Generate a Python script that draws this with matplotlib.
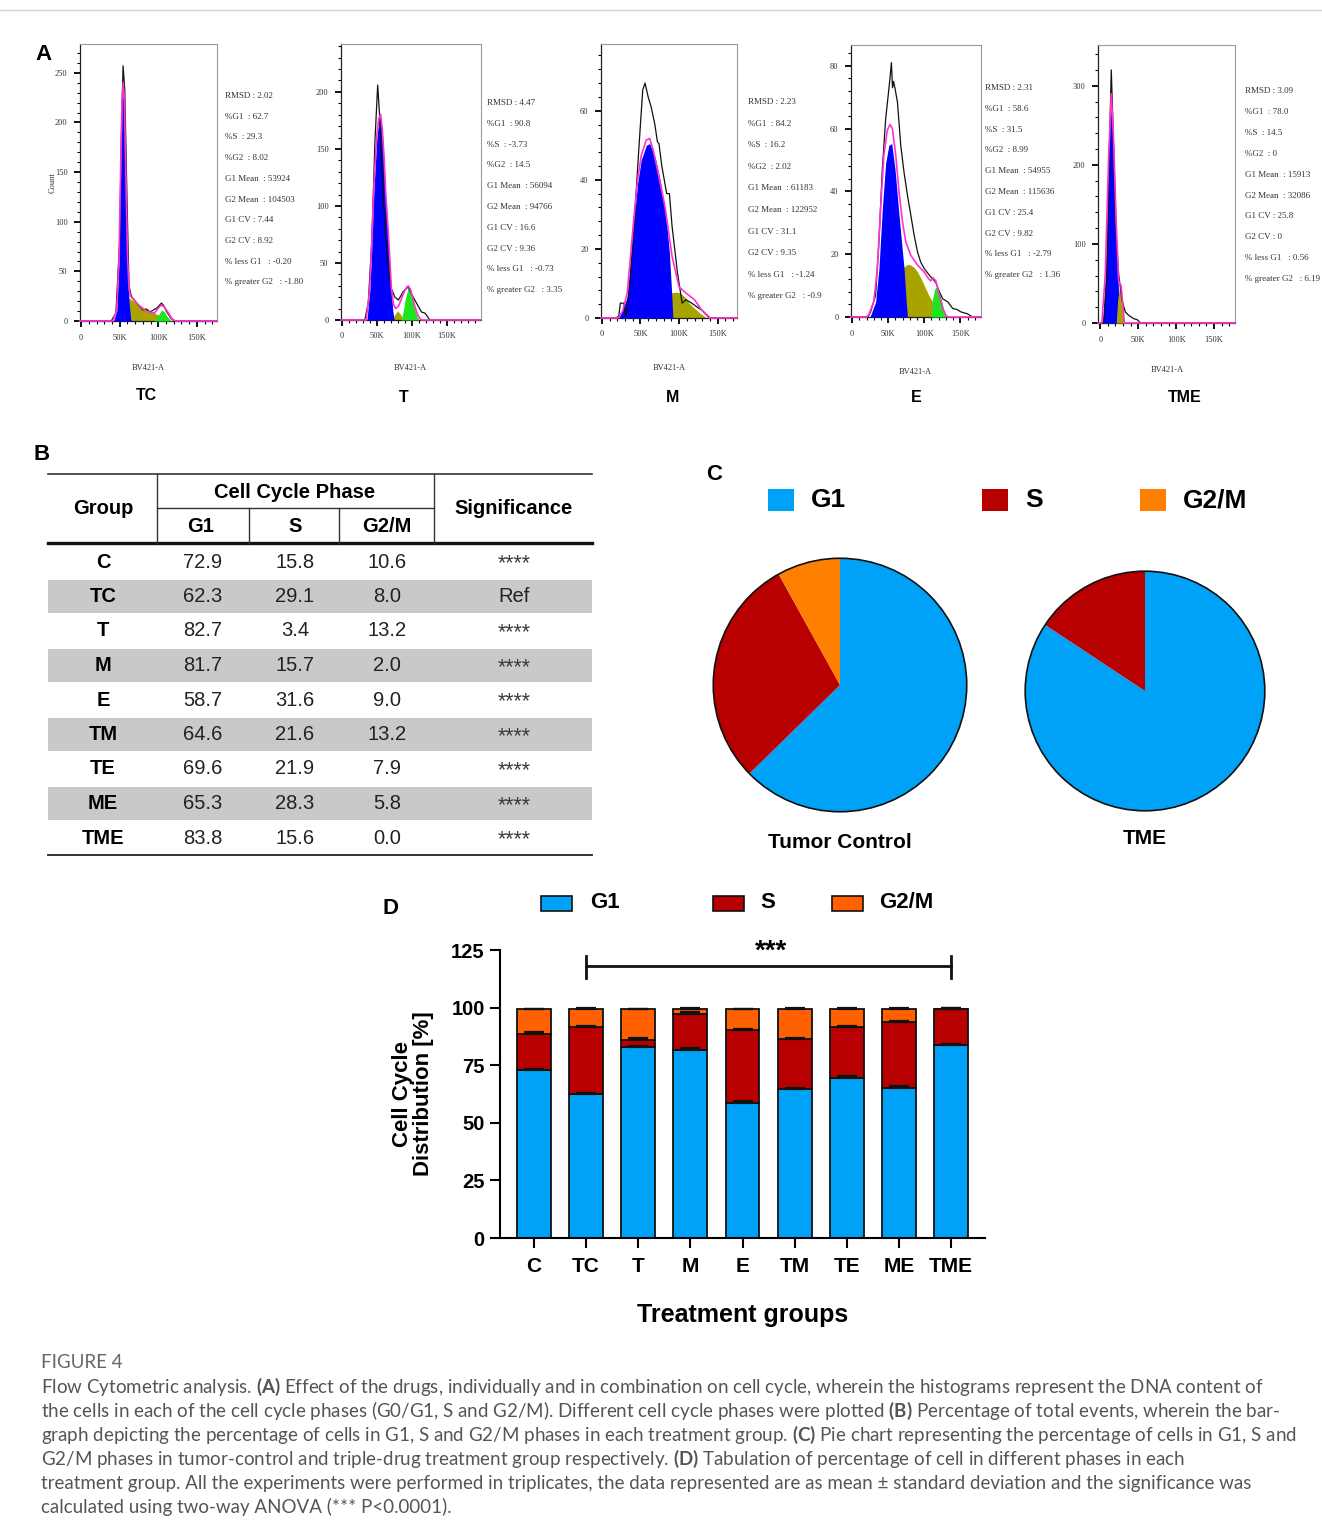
import matplotlib
matplotlib.use('Agg')
import matplotlib.pyplot as plt
from matplotlib.patches import Rectangle, Circle
from matplotlib.ticker import MultipleLocator, FuncFormatter

W, H = 1322, 1537
plt.rcParams['font.family'] = ['Liberation Sans', 'DejaVu Sans']
plt.rcParams['mathtext.fontset'] = 'custom'
plt.rcParams['mathtext.bf'] = 'Lato:bold'
plt.rcParams['mathtext.rm'] = 'Lato'

# ---------------- DATA ----------------
# Panel A histograms: (BV421-A in K, count)
TC_raw = [(-2, 0), (39, 0), (45, 8), (50, 82), (52, 183), (54.3, 257), (56.5, 233), (59.6, 115), (62, 35), (65, 25),
          (72, 18), (80, 11), (85, 12), (89, 9), (98, 13), (104, 18), (106.5, 16), (111, 9), (117, 2), (122, 0), (176, 0)]
TC_fit = [(-2, 0), (41, 0), (46, 10), (49, 62), (51, 145), (53, 222), (54.5, 240), (56, 222), (58, 145), (60, 68),
          (62, 32), (64, 25), (72, 18), (80, 12), (88, 9), (95, 8), (100, 13), (104, 16), (108, 14), (113, 8),
          (118, 2), (122, 0), (176, 0)]
TC_g1 = [(42, 0), (46, 10), (49, 60), (51, 140), (53, 215), (54.5, 236), (56, 215), (58, 140), (60, 60), (62, 20),
         (64, 3), (65, 0)]
TC_s = [(45, 0), (50, 8), (55, 16), (60, 22), (62, 23), (70, 19), (80, 14), (90, 10), (100, 6), (110, 3), (117, 0)]
TC_g2 = [(95, 0), (100, 6), (104, 11), (107, 10), (112, 4), (117, 0)]

T_raw = [(-1, 0), (33, 0), (38, 15), (43, 70), (47.6, 158), (51.4, 206), (54.8, 173), (59.5, 105), (65, 56), (70, 29),
         (76, 20), (81, 17.5), (88, 25), (95, 29), (102, 20), (109.5, 12), (114, 7), (119, 6), (126, 0), (199, 0)]
T_fit = [(-1, 0), (35, 0), (40, 27), (43, 68), (46, 118), (50, 161), (53, 177), (55.7, 180), (58, 167), (60.5, 143),
         (63, 110), (66.7, 76), (71, 28), (74, 14), (77, 10), (81, 12), (85, 18), (88, 23), (92, 28), (95, 30),
         (98, 27), (100, 23), (103, 15), (106, 9), (109, 4), (112, 1), (114, 0), (199, 0)]
T_g1 = [(36, 0), (40, 25), (43, 65), (46, 115), (50, 158), (53, 175), (55.7, 178), (58, 165), (60.5, 140), (63, 108),
        (66.7, 72), (70, 35), (73, 8), (75, 0)]
T_s = [(72, 0), (76, 5), (80, 8), (84, 5), (88, 0)]
T_g2 = [(85, 0), (88, 8), (91, 19), (95, 28), (98, 25), (100, 20), (103, 12), (106, 6), (110, 0)]

M_raw = [(-1, 0), (18, 0), (22, 0.5), (24, 4.3), (28.6, 4.3), (31, 0.5), (33, 3.4), (37, 12), (42, 27), (46, 42),
         (48.7, 51.5), (53, 66), (56, 68), (58, 66), (60, 64), (64, 61), (68.7, 56), (72, 51), (74, 50.5),
         (77.7, 44), (84, 36), (87.5, 36), (91, 26.5), (98, 13), (104, 4.3), (109, 5.3), (115, 4.5), (122, 3.4),
         (131, 2), (140, 0), (175, 0)]
M_fit = [(-1, 0), (20, 0), (22, 0.2), (27, 2), (33, 7.2), (37.5, 18.8), (42, 30), (46.4, 40), (51, 47), (57.6, 51.5),
         (62, 52), (66.5, 48.6), (73, 42), (82, 32), (91, 17.8), (100, 9), (109, 7.2), (120, 5.3), (129, 2.4),
         (138, 0.2), (140, 0), (175, 0)]
M_g1 = [(22, 0), (24, 1), (33, 6), (37.5, 17.8), (42, 29), (46.4, 39), (51, 45.7), (57.6, 50), (62, 50.5),
        (68.8, 46.7), (75.5, 40), (80, 34), (84.4, 26.5), (87.5, 18.8), (90, 9), (92, 0)]
M_s = [(51, 0), (60, 1), (68.7, 2.4), (76, 4.5), (82, 6.3), (90, 7.3), (97, 7.5), (102, 7.2), (108, 6), (113, 4.3),
       (120, 2.8), (127, 1.4), (136, 0)]
M_g2 = []

E_raw = [(-2, 0), (22, 0), (25.6, 1.6), (32.6, 6.9), (37.2, 24), (41.9, 47), (46.5, 63), (51, 72.7), (52.5, 76),
         (54.5, 81), (56, 73), (57.5, 75), (59.5, 72.7), (62.8, 68.5), (67.4, 54.7), (72, 46), (76.7, 38.8),
         (81.4, 32.4), (86, 26), (90.7, 20.7), (95, 17.5), (100, 15.4), (107, 13.3), (116, 11), (121, 8),
         (125.6, 5.8), (132.6, 4.8), (139.5, 2.7), (145, 2.4), (151, 1.6), (160, 1), (167, 0), (178.6, 0)]
E_fit = [(-2, 0), (20, 0), (23, 0.7), (30, 4.8), (35, 15.4), (39.5, 34.5), (44, 51.5), (48.8, 59.5), (52.6, 61.3),
         (55.8, 60), (60.5, 51.5), (65, 39.8), (69.8, 30.3), (74.4, 23.9), (81.4, 19.6), (90.7, 16.5), (100, 14.3),
         (105, 12.5), (109, 11.5), (112, 12.5), (116, 11.5), (121, 6.9), (125.6, 2.7), (130, 0.5), (132.6, 0),
         (178.6, 0)]
E_g1 = [(24, 0), (25.6, 0.5), (32.6, 4.8), (37.2, 15.4), (41.9, 34.5), (46.5, 49), (51, 54.7), (54.9, 55.2),
        (59.5, 47), (65, 32.4), (72, 15.4), (75, 4.8), (76.7, 0)]
E_s = [(32.6, 0), (40, 1.5), (46.5, 3.7), (53, 7), (60.5, 11), (66, 14), (72, 16), (77, 16.8), (81.4, 16.5),
       (86, 15.8), (90.7, 14.3), (95, 12.5), (100, 10), (106, 7), (111.6, 4.8), (117, 2), (121, 0.5), (123, 0)]
E_g2 = [(109, 0), (111.6, 5.8), (114, 8.5), (116, 9.5), (118, 9), (121, 8), (125.6, 3.7), (130, 0)]

TME_raw = [(-3, 0), (3, 0), (4.4, 1.3), (8.8, 62), (12.3, 231), (14.5, 320), (16.7, 252), (19.8, 126), (24.2, 62),
           (28.6, 29), (33, 14), (37.4, 9.7), (44, 5.5), (48.5, 4.2), (50, 3), (53, 0), (177.6, 0)]
TME_fit = [(-3, 0), (1, 0), (2.2, 1.3), (6.6, 62), (11, 210), (14.5, 290), (17.6, 231), (21, 126), (24.2, 54),
           (25.6, 48), (27.3, 48), (30, 20), (31.7, 0), (177.6, 0)]
TME_g1 = [(3.5, 0), (6.6, 58), (11, 206), (14.5, 288), (17.6, 227), (21, 121), (22.5, 85), (24, 40), (25, 10),
          (25.5, 0)]
TME_s = [(21, 0), (22.9, 29), (25.6, 48), (27.8, 46), (30, 20), (31.3, 0)]
TME_g2 = []

TC_stats = ["RMSD : 2.02", "%G1  : 62.7", "%S  : 29.3", "%G2  : 8.02", "G1 Mean  : 53924", "G2 Mean  : 104503",
            "G1 CV : 7.44", "G2 CV : 8.92", "% less G1   : -0.20", "% greater G2   : -1.80"]
T_stats = ["RMSD : 4.47", "%G1  : 90.8", "%S  : -3.73", "%G2  : 14.5", "G1 Mean  : 56094", "G2 Mean  : 94766",
           "G1 CV : 16.6", "G2 CV : 9.36", "% less G1   : -0.73", "% greater G2   : 3.35"]
M_stats = ["RMSD : 2.23", "%G1  : 84.2", "%S  : 16.2", "%G2  : 2.02", "G1 Mean  : 61183", "G2 Mean  : 122952",
           "G1 CV : 31.1", "G2 CV : 9.35", "% less G1   : -1.24", "% greater G2   : -0.9"]
E_stats = ["RMSD : 2.31", "%G1  : 58.6", "%S  : 31.5", "%G2  : 8.99", "G1 Mean  : 54955", "G2 Mean  : 115636",
           "G1 CV : 25.4", "G2 CV : 9.82", "% less G1   : -2.79", "% greater G2   : 1.36"]
TME_stats = ["RMSD : 3.09", "%G1  : 78.0", "%S  : 14.5", "%G2  : 0", "G1 Mean  : 15913", "G2 Mean  : 32086",
             "G1 CV : 25.8", "G2 CV : 0", "% less G1   : 0.56", "% greater G2   : 6.19"]

hist_names = ["TC", "T", "M", "E", "TME"]

# Panels B/C/D
groups = ['C', 'TC', 'T', 'M', 'E', 'TM', 'TE', 'ME', 'TME']
g1_pct = [72.9, 62.3, 82.7, 81.7, 58.7, 64.6, 69.6, 65.3, 83.8]
s_pct = [15.8, 29.1, 3.4, 15.7, 31.6, 21.6, 21.9, 28.3, 15.6]
g2m_pct = [10.6, 8.0, 13.2, 2.0, 9.0, 13.2, 7.9, 5.8, 0.0]
signif = ['****', 'Ref', '****', '****', '****', '****', '****', '****', '****']
g1_sd = [0.6, 0.6, 0.6, 0.6, 0.6, 0.6, 0.6, 0.6, 0.6]
s_sd = [0.6, 0.6, 0.6, 0.6, 0.6, 0.6, 0.6, 0.6, 0.6]
g2m_sd = [0.3, 0.3, 0.3, 0.3, 0.3, 0.3, 0.3, 0.3, 0.3]
phases = ['G1', 'S', 'G2/M']
pie_tc = [62.3, 29.1, 8.0]
pie_tme = [83.8, 15.6, 0.0]

caption_title = "FIGURE 4"
caption_lines = [
    r"Flow Cytometric analysis. $\bf{(A)}$ Effect of the drugs, individually and in combination on cell cycle, wherein the histograms represent the DNA content of",
    r"the cells in each of the cell cycle phases (G0/G1, S and G2/M). Different cell cycle phases were plotted $\bf{(B)}$ Percentage of total events, wherein the bar-",
    r"graph depicting the percentage of cells in G1, S and G2/M phases in each treatment group. $\bf{(C)}$ Pie chart representing the percentage of cells in G1, S and",
    r"G2/M phases in tumor-control and triple-drug treatment group respectively. $\bf{(D)}$ Tabulation of percentage of cell in different phases in each",
    r"treatment group. All the experiments were performed in triplicates, the data represented are as mean ± standard deviation and the significance was",
    r"calculated using two-way ANOVA (*** P<0.0001).",
]

# ---------------- STYLE ----------------
BLUE_H, OLIVE, GREEN, MAG = '#0000FF', '#A9A300', '#1EE61E', '#FF33CC'
C_G1, C_S, C_G2_PIE, C_G2_BAR = '#00A2F8', '#B80000', '#FF8000', '#FF6100'
SERIF = 'Liberation Serif'

fig = plt.figure(figsize=(W / 100, H / 100), dpi=100)


def rect(x0, y0, x1, y1):
    return [x0 / W, 1 - y1 / H, (x1 - x0) / W, (y1 - y0) / H]


over = fig.add_axes([0, 0, 1, 1], zorder=-1)
over.set_xlim(0, W)
over.set_ylim(H, 0)
over.axis('off')

over.plot([0, W], [10, 10], color='#d0d0d0', lw=1)

# ---------------- PANEL A ----------------
kfmt = FuncFormatter(lambda v, p: '0' if abs(v) < 1e-9 else f'{int(round(v))}K')


def hist_panel(box, xlim, ylim, ymaj, ymin, raw, fit, g1, s, g2, s_top, stats, sx, sy0, sdy):
    ax = fig.add_axes(rect(*box))
    ax.set_xlim(*xlim)
    ax.set_ylim(*ylim)

    def fill(pts, color, z):
        if pts:
            xs = [p[0] for p in pts]
            ys = [p[1] for p in pts]
            ax.fill_between(xs, ys, 0, color=color, lw=0, zorder=z)

    fill(s, OLIVE, 4 if s_top else 2)
    fill(g1, BLUE_H, 3)
    fill(g2, GREEN, 5)
    ax.plot([p[0] for p in raw], [p[1] for p in raw], color='#111111', lw=0.9, zorder=6)
    ax.plot([p[0] for p in fit], [p[1] for p in fit], color=MAG, lw=1.2, zorder=7, clip_on=False)
    ax.xaxis.set_major_locator(MultipleLocator(50))
    ax.xaxis.set_minor_locator(MultipleLocator(10))
    ax.xaxis.set_major_formatter(kfmt)
    ax.yaxis.set_major_locator(MultipleLocator(ymaj))
    ax.yaxis.set_minor_locator(MultipleLocator(ymin))
    ax.tick_params(which='major', length=4, width=1.3, labelsize=6, pad=5, labelfontfamily=SERIF,
                   labelcolor='#333333')
    ax.tick_params(which='minor', length=2, width=0.8)
    for sp in ['top', 'right']:
        ax.spines[sp].set_color('#9a9a9a')
        ax.spines[sp].set_linewidth(0.8)
    for sp in ['left', 'bottom']:
        ax.spines[sp].set_color('#222222')
        ax.spines[sp].set_linewidth(0.9)
    for i, t in enumerate(stats):
        over.text(sx, sy0 + i * sdy, t, fontsize=6.5, family=SERIF, color='#333333', va='center', ha='left')
    return ax


hist_panel((80, 44, 217, 321), (-1.5, 176), (0, 279), 50, 10, TC_raw, TC_fit, TC_g1, TC_s, TC_g2, False,
           TC_stats, 225, 96, 20.7)
hist_panel((341, 44, 481, 320), (-1, 199), (0, 242), 50, 10, T_raw, T_fit, T_g1, T_s, T_g2, False,
           T_stats, 487, 103, 20.8)
hist_panel((601, 44, 737, 318), (-1, 175), (0, 79.3), 20, 4, M_raw, M_fit, M_g1, M_s, M_g2, False,
           M_stats, 748, 102, 21.6)
hist_panel((851, 45, 981, 317), (-1.5, 178.6), (0, 86.6), 20, 4, E_raw, E_fit, E_g1, E_s, E_g2, False,
           E_stats, 985, 88, 20.8)
hist_panel((1098, 45, 1235, 323), (-3, 177.6), (0, 351.5), 100, 20, TME_raw, TME_fit, TME_g1, TME_s, TME_g2, True,
           TME_stats, 1245, 91, 20.9)

over.text(53, 183, 'Count', rotation=90, fontsize=6, family=SERIF, color='#333333', ha='center', va='center')
for (x, y) in [(148, 368), (410, 368), (669, 368), (915, 372), (1167, 370)]:
    over.text(x, y, 'BV421-A', fontsize=6, family=SERIF, color='#333333', ha='center', va='center')
for name, (x, y) in zip(hist_names, [(146, 396), (404, 398), (673, 398), (916, 398), (1185, 398)]):
    over.text(x, y, name, fontsize=11.5, weight='bold', ha='center', va='center')

# panel letters
for lab, (x, y) in zip('ABCD', [(43, 55), (42, 455), (714, 474), (390, 909)]):
    over.text(x, y, lab, fontsize=16, weight='bold', ha='center', va='center')

# ---------------- PANEL B (table) ----------------
TX0, TX1 = 48, 592
row_y0, row_h = 562, 34.5
for i, gname in enumerate(groups):
    yc = row_y0 + i * row_h
    if i % 2 == 1:
        over.add_patch(Rectangle((TX0, yc - row_h / 2 + 0.5), TX1 - TX0, row_h - 1, color='#c9c9c9', lw=0))
    over.text(103, yc, gname, fontsize=14.5, weight='bold', ha='center', va='center')
    over.text(203, yc, f'{g1_pct[i]:.1f}', fontsize=14.5, ha='center', va='center', color='#222222')
    over.text(295, yc, f'{s_pct[i]:.1f}', fontsize=14.5, ha='center', va='center', color='#222222')
    over.text(387, yc, f'{g2m_pct[i]:.1f}', fontsize=14.5, ha='center', va='center', color='#222222')
    if signif[i] == 'Ref':
        over.text(514, yc, signif[i], fontsize=14.5, ha='center', va='center', color='#222222')
    else:
        over.text(514, yc + 2, signif[i], fontsize=15.5, ha='center', va='center', color='#3a3a3a')

over.plot([TX0, TX1], [474, 474], color='#333333', lw=1.2)
over.plot([157, 434], [508, 508], color='#333333', lw=1.0)
over.plot([TX0, TX1], [543, 543], color='#111111', lw=2.4)
over.plot([TX0, TX1], [855, 855], color='#333333', lw=1.4)
for x in [157, 434]:
    over.plot([x, x], [474, 543], color='#333333', lw=1.0)
for x in [249, 339]:
    over.plot([x, x], [508, 543], color='#333333', lw=1.0)
over.text(103, 508, 'Group', fontsize=14.5, weight='bold', ha='center', va='center')
over.text(295, 492, 'Cell Cycle Phase', fontsize=14.5, weight='bold', ha='center', va='center')
over.text(514, 508, 'Significance', fontsize=14.5, weight='bold', ha='center', va='center')
for ph, x in zip(phases, [201, 295, 387]):
    over.text(x, 526, ph, fontsize=14.5, weight='bold', ha='center', va='center')

# ---------------- PANEL C (pies) ----------------
pie_cols = [C_G1, C_S, C_G2_PIE]


def pie_panel(cx, cy, r, vals, label, ly):
    ax = fig.add_axes(rect(cx - r, cy - r, cx + r, cy + r))
    ax.pie(vals, colors=pie_cols, startangle=90, counterclock=False, radius=1,
           wedgeprops=dict(linewidth=0, edgecolor='none'))
    ax.add_patch(Circle((0, 0), 1, fill=False, lw=1.2, ec='#111111'))
    ax.set_xlim(-1.01, 1.01)
    ax.set_ylim(-1.01, 1.01)
    ax.set_aspect('auto')
    over.text(cx, ly, label, fontsize=15, weight='bold', ha='center', va='center')


pie_panel(840, 685, 128, pie_tc, 'Tumor Control', 842)
pie_panel(1145, 691, 121, pie_tme, 'TME', 838)

for col, ph, (x0, tx) in zip(pie_cols, phases, [(768, 811), (982, 1025), (1140, 1183)]):
    over.add_patch(Rectangle((x0, 489), 26, 22, color=col, lw=0))
    over.text(tx, 500, ph, fontsize=19, weight='bold', ha='left', va='center')

# ---------------- PANEL D (stacked bars) ----------------
axd = fig.add_axes(rect(500, 950, 985, 1238))
xs = list(range(len(groups)))
bot2 = [a + b for a, b in zip(g1_pct, s_pct)]
top = [a + b for a, b in zip(bot2, g2m_pct)]
bar_kw = dict(width=0.65, edgecolor='#111111', linewidth=1.3, zorder=2)
axd.bar(xs, g1_pct, color=C_G1, **bar_kw)
axd.bar(xs, s_pct, bottom=g1_pct, color=C_S, **bar_kw)
axd.bar(xs, g2m_pct, bottom=bot2, color=C_G2_BAR, **bar_kw)
err_kw = dict(fmt='none', ecolor='#111111', elinewidth=1.3, capsize=7.5, capthick=1.6, zorder=3)
axd.errorbar(xs, g1_pct, yerr=[[0] * 9, g1_sd], **err_kw)
axd.errorbar(xs, bot2, yerr=[[0] * 9, s_sd], **err_kw)
axd.errorbar(xs, top, yerr=[[0] * 9, g2m_sd], **err_kw)
axd.set_xlim(-0.65, 8.65)
axd.set_ylim(0, 125)
axd.set_yticks([0, 25, 50, 75, 100, 125])
axd.set_xticks(xs)
axd.set_xticklabels(groups)
for sp in ['top', 'right']:
    axd.spines[sp].set_visible(False)
for sp in ['left', 'bottom']:
    axd.spines[sp].set_linewidth(1.5)
axd.tick_params(axis='both', length=7, width=1.5, labelsize=14.5, pad=4)
axd.tick_params(axis='x', pad=7, labelsize=15)
for t in axd.get_xticklabels() + axd.get_yticklabels():
    t.set_fontweight('bold')
axd.set_ylabel('Cell Cycle\nDistribution [%]', fontsize=16, weight='bold', labelpad=12, linespacing=1.0)
axd.set_xlabel('Treatment groups', fontsize=18, weight='bold', labelpad=19)
# significance bracket
axd.plot([1, 8], [118, 118], color='#111111', lw=2, clip_on=False)
axd.plot([1, 1], [113, 122.5], color='#111111', lw=2, clip_on=False)
axd.plot([8, 8], [113, 122.5], color='#111111', lw=2, clip_on=False)
axd.text(4.55, 118.5, '***', fontsize=20, weight='bold', ha='center', va='bottom')

bar_cols = [C_G1, C_S, C_G2_BAR]
for col, ph, (x0, tx) in zip(bar_cols, phases, [(541, 590), (713, 760), (832, 879)]):
    over.add_patch(Rectangle((x0, 896), 31, 15, facecolor=col, edgecolor='#111111', lw=1.2))
    over.text(tx, 903, ph, fontsize=16, weight='bold', ha='left', va='center')

# ---------------- CAPTION ----------------
over.text(41, 1362, caption_title, fontsize=13.5, family='Lato', color='#666666', ha='left', va='center')
for i, line in enumerate(caption_lines):
    over.text(41, 1387 + i * 24, line, fontsize=13.5, family='Lato', color='#555555', ha='left', va='center')

fig.savefig('out.png', dpi=100)
